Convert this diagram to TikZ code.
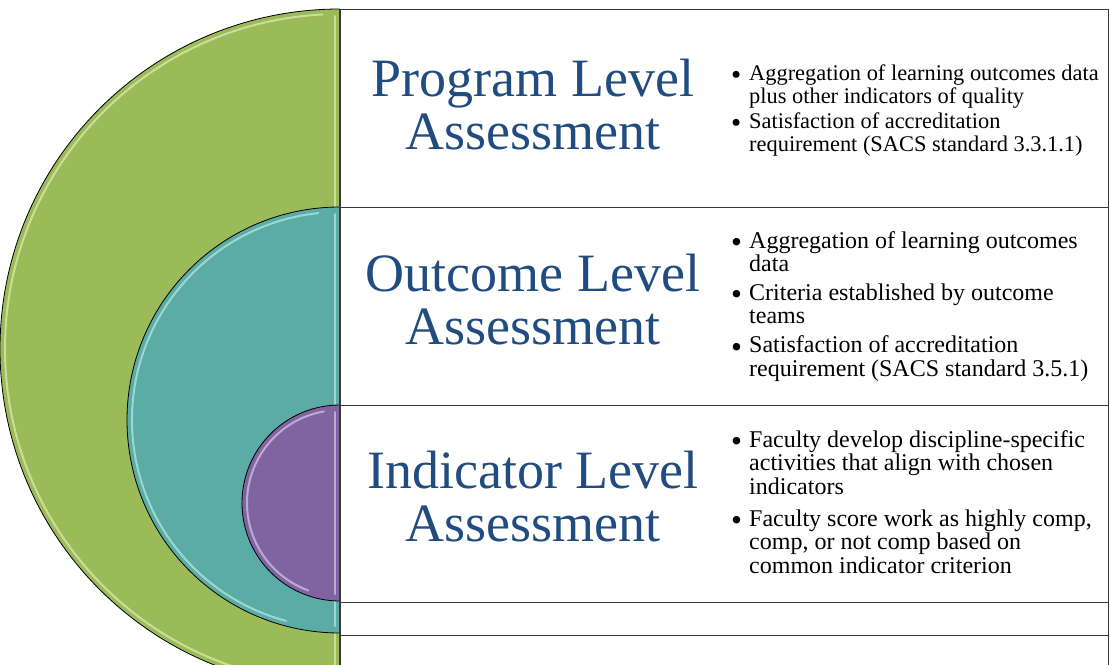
\documentclass[tikz,border=0pt]{standalone}
\usepackage{fontspec}
\setmainfont{Liberation Serif}
\usepackage{array}
\usepackage{graphicx}
\definecolor{grn}{HTML}{9BBB59}
\definecolor{grnhl}{HTML}{EAF5C4}
\definecolor{teal1}{HTML}{5BACA4}
\definecolor{tealhl}{HTML}{C9F4F0}
\definecolor{purp}{HTML}{8064A2}
\definecolor{purphl}{HTML}{E6D8F5}
\definecolor{titleblue}{HTML}{214C80}
\definecolor{boxline}{HTML}{383838}
\newcommand{\bul}{\makebox[18pt][l]{\raisebox{-4.5pt}{\scalebox{1.3}{\textbullet}}}}
\tikzset{
  halfdisc/.style={draw=black, line width=0.8pt},
  hilite/.style={line width=2pt, opacity=0.6, line cap=round},
  rowbox/.style={draw=boxline, line width=1.2pt, fill=white, rectangle, inner sep=0pt, minimum width=768pt, anchor=north west},
  title/.style={text=titleblue, align=center, inner sep=0pt, font=\fontsize{54}{53}\selectfont},
  listtext/.style={text=black, inner sep=0pt, anchor=base west}
}
\begin{document}
\begin{tikzpicture}[x=1pt,y=-1pt]
\useasboundingbox (0,0) rectangle (1110,664);
\clip (0,0) rectangle (1110,664);
% row boxes
\node[rowbox, minimum height=198pt] (b1) at (340,9) {};
\node[rowbox, minimum height=198pt] (b2) at (340,207) {};
\node[rowbox, minimum height=197pt] (b3) at (340,405) {};
\node[rowbox, minimum height=33pt] (b4) at (340,602) {};
\node[rowbox, minimum height=198pt] (b5) at (340,635) {};
% green half disc
\coordinate (cg) at (340,349);
\fill[grn] (340,9) arc[start angle=90,end angle=270,radius=340pt] -- cycle;
\draw[hilite, grnhl] (cg) ++(93:335pt) arc[start angle=93,end angle=255,radius=335pt];
\draw[hilite, grnhl] (335,16) -- (335,680);
\draw[halfdisc] (340,9) arc[start angle=90,end angle=270,radius=340pt];
% teal half disc
\coordinate (ct) at (340,420);
\fill[teal1] (340,207) arc[start angle=90,end angle=270,radius=213pt] -- cycle;
\draw[hilite, tealhl] (ct) ++(96:208pt) arc[start angle=96,end angle=255,radius=208pt];
\draw[hilite, tealhl] (335,214) -- (335,626);
\draw[halfdisc] (340,207) arc[start angle=90,end angle=270,radius=213pt];
% purple half disc
\coordinate (cp) at (340,503);
\fill[purp] (340,405) arc[start angle=90,end angle=270,radius=98pt] -- cycle;
\draw[hilite, purphl] (cp) ++(100:93pt) arc[start angle=100,end angle=250,radius=93pt];
\draw[hilite, purphl] (335,412) -- (335,594);
\draw[halfdisc] (340,405) arc[start angle=90,end angle=270,radius=98pt];
% left border of boxes redrawn
\draw[boxline, line width=1.2pt] (b1.north west) -- (b5.south west);
% titles
\node[title] (t1) at (533,105) {Program Level\\Assessment};
\node[title] (t2) at (533,300) {Outcome Level\\Assessment};
\node[title] (t3) at (533,496.5) {Indicator Level\\Assessment};
% lists
\node[listtext] (l1) at (731,80) {\fontsize{22.4}{23}\selectfont
\begin{tabular}[t]{@{}l@{}l@{}}
\bul & Aggregation of learning outcomes data\\
 & plus other indicators of quality\\[2pt]
\bul & Satisfaction of accreditation\\
 & requirement (SACS standard 3.3.1.1)
\end{tabular}};
\node[listtext] (l2) at (731,248) {\fontsize{24}{23.5}\selectfont
\begin{tabular}[t]{@{}l@{}l@{}}
\bul & Aggregation of learning outcomes\\
 & data\\[5pt]
\bul & Criteria established by outcome\\
 & teams\\[5pt]
\bul & Satisfaction of accreditation\\
 & requirement (SACS standard 3.5.1)
\end{tabular}};
\node[listtext] (l3) at (731,447) {\fontsize{24}{23.5}\selectfont
\begin{tabular}[t]{@{}l@{}l@{}}
\bul & Faculty develop discipline-specific\\
 & activities that align with chosen\\
 & indicators\\[8pt]
\bul & Faculty score work as highly comp,\\
 & comp, or not comp based on\\
 & common indicator criterion
\end{tabular}};
\end{tikzpicture}
\end{document}
